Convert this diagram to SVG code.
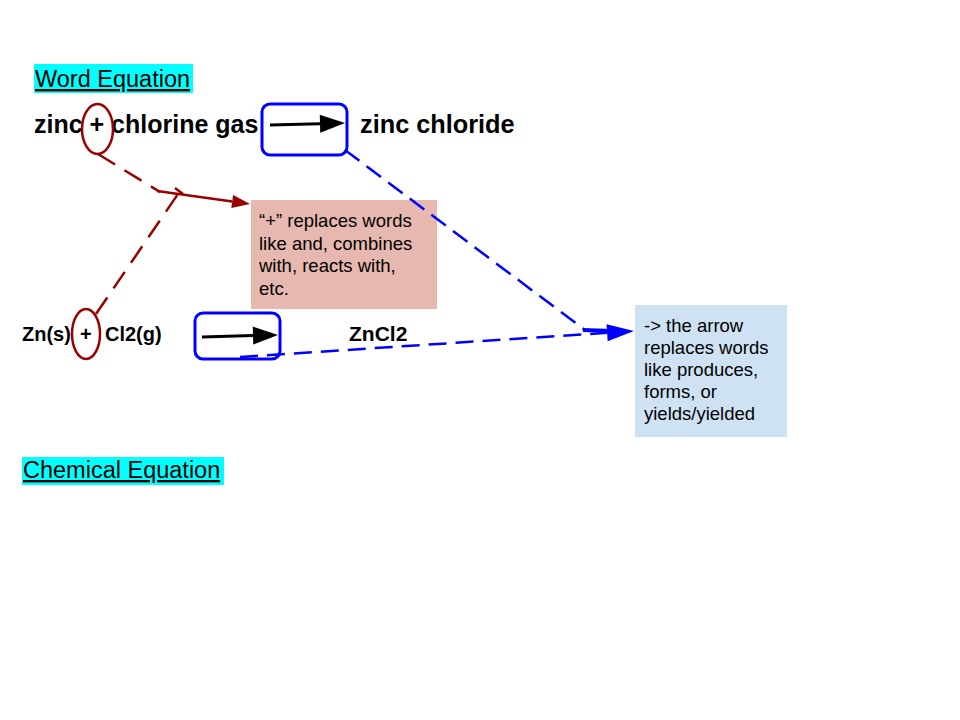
<svg xmlns="http://www.w3.org/2000/svg" width="960" height="720" viewBox="0 0 960 720">
<defs>
<style>
.hd{font-family:"Liberation Sans",Arial,sans-serif;font-size:23.5px;fill:#000;text-decoration:underline}
.eq{font-family:"Liberation Sans",Arial,sans-serif;font-weight:bold;fill:#000}
.note{font-family:"Liberation Sans",Arial,sans-serif;font-size:18.5px;fill:#000}
.box{fill:none;stroke:#0000ff;stroke-width:3}
.ell{fill:none;stroke:#990000;stroke-width:2.5}
.rd{fill:none;stroke:#990000;stroke-width:2.5;stroke-dasharray:20 11}
.bd{fill:none;stroke:#0000ff;stroke-width:2.5;stroke-dasharray:18 9}
</style>
<marker id="mBlack" markerUnits="userSpaceOnUse" markerWidth="25" markerHeight="18" refX="0" refY="9" orient="auto" overflow="visible"><path d="M0,0 L25,9 L0,18 z" fill="#000"/></marker>
<marker id="mRed" markerUnits="userSpaceOnUse" markerWidth="18" markerHeight="13" refX="0" refY="6.5" orient="auto" overflow="visible"><path d="M0,0 L18,6.5 L0,13 z" fill="#990000"/></marker>
<marker id="mBlue" markerUnits="userSpaceOnUse" markerWidth="27" markerHeight="17" refX="0" refY="8.5" orient="auto" overflow="visible"><path d="M0,0 L27,8.5 L0,17 z" fill="#0000ff"/></marker>
</defs>
<rect width="960" height="720" fill="#fff"/>
<g id="title-word">
<rect x="34" y="64" width="159" height="29" fill="#00ffff"/>
<text class="hd" x="35" y="87">Word Equation</text>
</g>
<g id="title-chem">
<rect x="22" y="457" width="202" height="28" fill="#00ffff"/>
<text class="hd" x="23" y="478">Chemical Equation</text>
</g>
<g id="word-eq">
<text class="eq" x="34" y="133" font-size="25">zinc + chlorine gas</text>
<text class="eq" x="360" y="133" font-size="25.3">zinc chloride</text>
</g>
<g id="chem-eq">
<text class="eq" x="22" y="341" font-size="20">Zn(s)<tspan x="80">+</tspan><tspan x="105">Cl2(g)</tspan></text>
<text class="eq" x="349" y="341" font-size="21">ZnCl2</text>
</g>
<g id="plus-word">
<ellipse class="ell" cx="97.5" cy="129" rx="15.5" ry="25"/>
</g>
<g id="plus-chem">
<ellipse class="ell" cx="86" cy="334" rx="14" ry="25"/>
</g>
<g id="arrow-word">
<rect class="box" x="262" y="104" width="85" height="51" rx="8"/>
<line x1="270" y1="125" x2="320" y2="123.7" stroke="#000" stroke-width="3" marker-end="url(#mBlack)"/>
</g>
<g id="arrow-chem">
<rect class="box" x="195" y="313" width="85" height="46" rx="8"/>
<line x1="202" y1="337" x2="253" y2="335.6" stroke="#000" stroke-width="3" marker-end="url(#mBlack)"/>
</g>
<g id="note-plus">
<rect x="251" y="200" width="186" height="109" fill="#e6b8af"/>
<text class="note" x="259" y="227">“+” replaces words</text>
<text class="note" x="259" y="249.5">like and, combines</text>
<text class="note" x="259" y="272">with, reacts with,</text>
<text class="note" x="259" y="294.5">etc.</text>
</g>
<g id="note-arrow">
<rect x="635" y="305" width="152" height="132" fill="#cfe2f3"/>
<text class="note" x="644" y="332">-&gt; the arrow</text>
<text class="note" x="644" y="354">replaces words</text>
<text class="note" x="644" y="376">like produces,</text>
<text class="note" x="644" y="398">forms, or</text>
<text class="note" x="644" y="420">yields/yielded</text>
</g>
<g id="connectors">
<path class="rd" d="M98,154 L160,192"/>
<path class="rd" d="M96,314 L180,191"/>
<path d="M175,188 L183,194" fill="none" stroke="#990000" stroke-width="2.5"/>
<line x1="157" y1="191" x2="232.2" y2="201.5" stroke="#990000" stroke-width="2.5" marker-end="url(#mRed)"/>
<path class="bd" d="M345,150 L585,330"/>
<path d="M583,330 L612,331" fill="none" stroke="#0000ff" stroke-width="4"/>
<path class="bd" d="M240,357 L607.1,332.8" marker-end="url(#mBlue)"/>
</g>
</svg>
